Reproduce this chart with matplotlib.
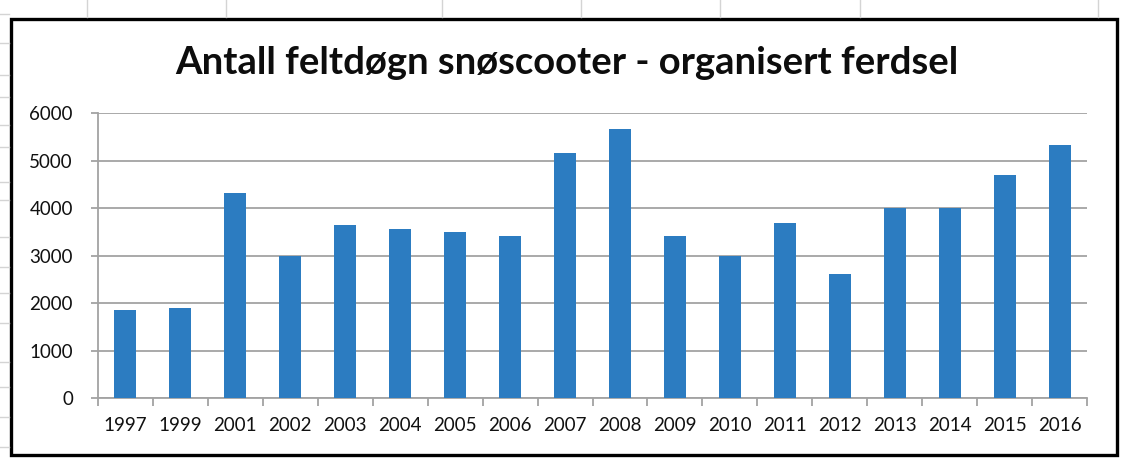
import matplotlib
matplotlib.use("Agg")
import matplotlib.pyplot as plt
from matplotlib.patches import Rectangle
from matplotlib.lines import Line2D
import numpy as np

years = ["1997", "1999", "2001", "2002", "2003", "2004", "2005", "2006", "2007",
         "2008", "2009", "2010", "2011", "2012", "2013", "2014", "2015", "2016"]
values = [1850, 1900, 4320, 3000, 3635, 3550, 3495, 3410, 5150,
          5655, 3410, 3000, 3685, 2620, 4010, 3990, 4685, 5335]
y_ticks = [0, 1000, 2000, 3000, 4000, 5000, 6000]
title = "Antall feltdøgn snøscooter - organisert ferdsel"

W, H = 1122, 458
fig = plt.figure(figsize=(W / 100, H / 100), dpi=100)
fig.patch.set_facecolor("white")

def fx(px):
    return px / W

def fy(py):
    return 1 - py / H

# faint spreadsheet grid lines outside the chart
sheet_col = "#d4d4d4"
for x in [87, 226, 442, 581, 720, 860, 1098]:
    fig.add_artist(Line2D([fx(x), fx(x)], [fy(0), fy(17)], color=sheet_col, lw=1.0))
for y in [14, 43, 75, 97, 125, 147, 182, 200, 237, 267, 293, 323, 362, 387, 417, 447]:
    fig.add_artist(Line2D([fx(0), fx(9)], [fy(y), fy(y)], color=sheet_col, lw=1.0))

# chart border
fig.add_artist(Rectangle((fx(11), fy(455)), fx(1117 - 11), (455 - 19) / H,
                         fill=False, edgecolor="black", lw=2.4))

ax = fig.add_axes([fx(98), fy(398), fx(1087 - 98), (398 - 113) / H])
x = np.arange(len(years))
ax.bar(x, values, width=0.4, color="#2C7CC1", zorder=3)

ax.set_xlim(-0.5, len(years) - 0.5)
ax.set_ylim(0, 6000)
ax.set_yticks(y_ticks)
ax.set_yticklabels([str(v) for v in y_ticks])
ax.set_xticks(x)
ax.set_xticklabels(years)
ax.set_xticks(np.arange(-0.5, len(years), 1.0), minor=True)

grid_col = "#a3a3a3"
ax.yaxis.grid(True, color=grid_col, lw=1.3, zorder=0)
ax.set_axisbelow(True)
for s in ["top", "right"]:
    ax.spines[s].set_visible(False)
for s in ["left", "bottom"]:
    ax.spines[s].set_color(grid_col)
    ax.spines[s].set_linewidth(1.3)

ax.tick_params(axis="x", which="major", length=0, pad=14, labelsize=13.5,
               labelcolor="#111111")
ax.tick_params(axis="x", which="minor", length=6, width=1.3, color=grid_col)
ax.tick_params(axis="y", which="major", length=5, width=1.3, color=grid_col,
               pad=13, labelsize=13.5, labelcolor="#111111")
for lab in ax.get_xticklabels() + ax.get_yticklabels():
    lab.set_family(["Lato", "DejaVu Sans"])

fig.text(fx(567), fy(63), title, ha="center", va="center", fontsize=27.5,
         fontweight="bold", family=["Lato", "DejaVu Sans"], color="#0d0d0d")

fig.savefig("out.png", dpi=100, facecolor="white")
